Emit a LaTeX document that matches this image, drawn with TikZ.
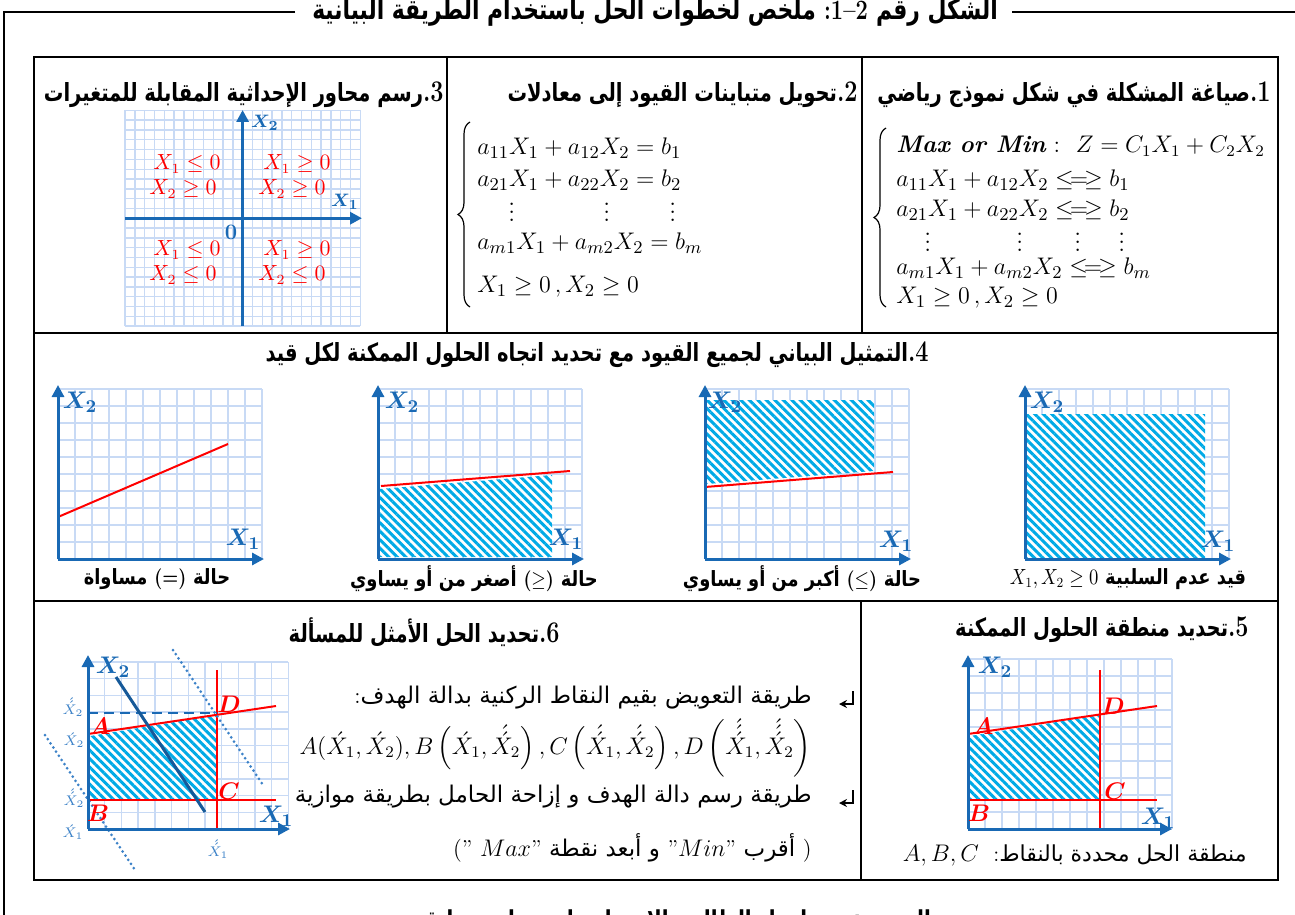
\documentclass[tikz,border=0pt]{standalone}
\usepackage{fontspec}
\usepackage{graphicx}
\usepackage{amsmath,bm}
\usetikzlibrary{arrows.meta,patterns.meta,decorations.pathreplacing}
\newfontfamily\arabicfont[Script=Arabic]{DejaVu Sans}
\TeXXeTstate=1
\newcommand{\AR}[1]{{\arabicfont\beginR #1\endR}}
\newcommand{\HD}[2]{\scalebox{0.78}[1]{#2{\fontsize{15}{17}\selectfont .#1}}}
\newcommand{\NS}[1]{\scalebox{0.85}[1]{#1}}
\definecolor{axblue}{RGB}{25,105,180}
\definecolor{gridblue}{RGB}{200,218,245}
\definecolor{hatchblue}{RGB}{0,170,230}
\definecolor{lblue}{RGB}{60,130,200}
\newcommand{\chartgrid}[5]{%
 \foreach \i in {0,...,#3}{\draw[gridl] ({#1+\i*#5},{#2}) -- ({#1+\i*#5},{#2-#4*#5});}
 \foreach \j in {0,...,#4}{\draw[gridl] ({#1},{#2-\j*#5}) -- ({#1+#3*#5},{#2-\j*#5});}
}
\tikzset{
 framel/.style={draw=black, line width=1pt},
 gridl/.style={draw=gridblue, line width=0.7pt},
 axisl/.style={draw=axblue, line width=1.5pt, -{Triangle[length=6pt,width=6pt]}},
 redl/.style={draw=red, line width=1pt},
 hatched/.style={fill=white, postaction={pattern={Lines[angle=-45,distance=3pt,line width=1.5pt]}, pattern color=hatchblue}},
 axlab/.style={text=axblue, font=\fontsize{12.5}{14}\selectfont, inner sep=0pt},
 ptlab/.style={text=red, font=\fontsize{11.5}{13}\selectfont, inner sep=0pt},
 headt/.style={font=\fontsize{12.5}{14}\selectfont\bfseries, inner sep=0pt, anchor=east},
 capt/.style={font=\fontsize{10.5}{12}\selectfont\bfseries, inner sep=0pt},
 eqt/.style={font=\fontsize{12.5}{14}\selectfont, inner sep=0pt, anchor=west},
 qlab/.style={text=red, font=\fontsize{10.5}{12}\selectfont, inner sep=0pt},
 smalllab/.style={text=lblue, font=\fontsize{7}{8}\selectfont, inner sep=0pt},
 bodyt/.style={font=\fontsize{11.5}{13}\selectfont, inner sep=0pt, anchor=east},
 bracel/.style={draw=black, line width=0.6pt, decorate, decoration={brace, amplitude=6pt}},
 dotl/.style={draw=lblue, line width=1.5pt, line cap=round, dash pattern=on 0pt off 2.5pt},
 bullet/.style={draw=black, line width=0.8pt, -{Stealth[length=4pt,width=4pt]}},
}
\begin{document}
\begin{tikzpicture}[x=0.5pt,y=-0.5pt]
\useasboundingbox (0,0) rectangle (1295,915);
\fill[white] (0,0) rectangle (1295,915);
% outer frame and title
\draw[framel] (295,12) -- (4,12) -- (4,930);
\draw[framel] (1012,12) -- (1300,12);
\node[anchor=base, inner sep=0pt, font=\fontsize{14}{16}\selectfont\bfseries] (title) at (655,20)
 {\scalebox{0.78}[1]{{\arabicfont\beginR ملخص لخطوات الحل باستخدام الطريقة البيانية\endR} :1--2 {\arabicfont\beginR الشكل رقم\endR}}};
% table
\draw[framel] (34,57) rectangle (1278,880);
\draw[framel] (34,333) -- (1278,333);
\draw[framel] (34,601) -- (1278,601);
\draw[framel] (447,57) -- (447,333);
\draw[framel] (862,57) -- (862,333);
\draw[framel] (861,601) -- (861,880);

% ---------- Panel 1
\node[headt] (h1) at (1271,95) {\HD{1}{{\arabicfont\beginR صياغة المشكلة في شكل نموذج رياضي\endR}}};
\draw[bracel] (886,307) -- (886,128);
\node[eqt, font=\fontsize{12}{14}\selectfont] (p1l1) at (896,146) {{\bfseries\itshape Max or Min} :\ \ $Z = C_1X_1 + C_2X_2$};
\node[eqt] (p1l2) at (896,180) {$a_{11}X_1 + a_{12}X_2 \mathrel{\leq\!=\!\geq} b_1$};
\node[eqt] (p1l3) at (896,210) {$a_{21}X_1 + a_{22}X_2 \mathrel{\leq\!=\!\geq} b_2$};
\node[eqt] (p1d1) at (924,236) {$\vdots$};
\node[eqt] (p1d2) at (1016,236) {$\vdots$};
\node[eqt] (p1d3) at (1074,236) {$\vdots$};
\node[eqt] (p1d4) at (1118,236) {$\vdots$};
\node[eqt] (p1l5) at (896,268) {$a_{m1}X_1 + a_{m2}X_2 \mathrel{\leq\!=\!\geq} b_m$};
\node[eqt] (p1l6) at (896,298) {$X_1 \geq 0\,, X_2 \geq 0$};

% ---------- Panel 2
\node[headt] (h2) at (858,95) {\HD{2}{{\arabicfont\beginR تحويل متباينات القيود إلى معادلات\endR}}};
\draw[bracel] (470,307) -- (470,122);
\node[eqt] (p2l1) at (477,148) {$a_{11}X_1 + a_{12}X_2 = b_1$};
\node[eqt] (p2l2) at (477,180) {$a_{21}X_1 + a_{22}X_2 = b_2$};
\node[eqt] (p2d1) at (508,206) {$\vdots$};
\node[eqt] (p2d2) at (603,206) {$\vdots$};
\node[eqt] (p2d3) at (669,206) {$\vdots$};
\node[eqt] (p2l4) at (477,243) {$a_{m1}X_1 + a_{m2}X_2 = b_m$};
\node[eqt] (p2l5) at (477,287) {$X_1 \geq 0\,, X_2 \geq 0$};

% ---------- Panel 3
\node[headt] (h3) at (444,95) {\HD{3}{{\arabicfont\beginR رسم محاور الإحداثية المقابلة للمتغيرات\endR}}};
\chartgrid{125}{326}{24}{22}{9.8}
\coordinate (t3) at (242.6,110);
\coordinate (b3) at (242.6,326);
\coordinate (l3) at (125,218.2);
\coordinate (r3) at (362,218.2);
\draw[axisl] (b3) -- (t3);
\draw[axisl] (l3) -- (r3);
\node[axlab, font=\fontsize{9.5}{11}\selectfont] (x2c) at (265,123) {$\bm{X_2}$};
\node[axlab, font=\fontsize{9.5}{11}\selectfont] (x1c) at (345,202) {$\bm{X_1}$};
\node[axlab, font=\fontsize{11}{12}\selectfont\bfseries] (zero) at (231,232) {0};
\node[qlab] (q1a) at (187,164) {$X_1 \leq 0$};
\node[qlab] (q1b) at (183,189) {$X_2 \geq 0$};
\node[qlab] (q2a) at (297,164) {$X_1 \geq 0$};
\node[qlab] (q2b) at (292,189) {$X_2 \geq 0$};
\node[qlab] (q3a) at (187,250) {$X_1 \leq 0$};
\node[qlab] (q3b) at (183,275) {$X_2 \leq 0$};
\node[qlab] (q4a) at (297,250) {$X_1 \geq 0$};
\node[qlab] (q4b) at (292,275) {$X_2 \leq 0$};

% ---------- Row 2
\node[headt] (h4) at (929,355) {\HD{4}{{\arabicfont\beginR التمثيل البياني لجميع القيود مع تحديد اتجاه الحلول الممكنة لكل قيد\endR}}};
% chart A
\chartgrid{58}{559}{12}{10}{17}
\draw[redl] (58,517) -- (228,444);
\draw[axisl] (58,559) -- (58,385);
\draw[axisl] (58,559) -- (264,559);
\node[axlab] (aX2) at (80,402) {$\bm{X_2}$};
\node[axlab] (aX1) at (243,539) {$\bm{X_1}$};
\node[capt] (capA) at (157,579) {\NS{\AR{مساواة} (=) \AR{حالة}}};
% chart B
\chartgrid{378}{559}{12}{10}{17}
\path[hatched] (380,489) -- (552,475) -- (552,557) -- (380,557) -- cycle;
\draw[redl] (381,486) -- (570,471);
\draw[axisl] (378,559) -- (378,385);
\draw[axisl] (378,559) -- (584,559);
\node[axlab] (bX2) at (402,402) {$\bm{X_2}$};
\node[axlab] (bX1) at (566,539) {$\bm{X_1}$};
\node[capt] (capB) at (474,579) {\NS{{\arabicfont\beginR أصغر من أو يساوي\endR} ($\geq$) \AR{حالة}}};
% chart C
\chartgrid{705}{559}{12}{10}{17}
\path[hatched] (707,400) -- (874,400) -- (874,471) -- (707,484) -- cycle;
\draw[redl] (705,487) -- (893,472);
\draw[axisl] (705,559) -- (705,385);
\draw[axisl] (705,559) -- (911,559);
\node[axlab] (cX2) at (725,402) {$\bm{X_2}$};
\node[axlab] (cX1) at (896,541) {$\bm{X_1}$};
\node[capt] (capC) at (802,579) {\NS{{\arabicfont\beginR أكبر من أو يساوي\endR} ($\leq$) \AR{حالة}}};
% chart D
\chartgrid{1025}{559}{12}{10}{17}
\path[hatched] (1027,414) rectangle (1205,557);
\draw[axisl] (1025,559) -- (1025,385);
\draw[axisl] (1025,559) -- (1231,559);
\node[axlab] (dX2) at (1047,402) {$\bm{X_2}$};
\node[axlab] (dX1) at (1218,541) {$\bm{X_1}$};
\node[capt] (capD) at (1128,579) {\NS{$X_1,X_2 \geq 0$ {\arabicfont\beginR قيد عدم السلبية\endR}}};

% ---------- Panel 5
\node[headt] (h5) at (1249,630) {\HD{5}{{\arabicfont\beginR تحديد منطقة الحلول الممكنة\endR}}};
\chartgrid{968}{829}{12}{10}{17}
\path[hatched] (970,736) -- (1100,715) -- (1100,799) -- (970,799) -- cycle;
\draw[redl] (968,800) -- (1157,800);
\draw[redl] (1100,670) -- (1100,829);
\draw[redl] (968,734) -- (1157,706);
\draw[axisl] (968,829) -- (968,655);
\draw[axisl] (968,829) -- (1172,829);
\node[axlab] (eX2) at (995,667) {$\bm{X_2}$};
\node[axlab] (eX1) at (1158,818) {$\bm{X_1}$};
\node[ptlab] (eA) at (983,726) {$\bm{A}$};
\node[ptlab] (eD) at (1113,706) {$\bm{D}$};
\node[ptlab] (eC) at (1115,791) {$\bm{C}$};
\node[ptlab] (eB) at (979,813) {$\bm{B}$};
\node[bodyt, font=\fontsize{11}{13}\selectfont] (cap5) at (1247,855) {{\fontsize{12.5}{14}\selectfont$A, B, C$}\ \ :{\arabicfont\beginR منطقة الحل محددة بالنقاط\endR}};

% ---------- Panel 6
\node[headt] (h6) at (560,632) {\HD{6}{{\arabicfont\beginR تحديد الحل الأمثل للمسألة\endR}}};
\chartgrid{88}{829}{12}{10}{16.7}
\path[hatched] (90,736) -- (217,715) -- (217,799) -- (90,799) -- cycle;
\draw[redl] (88,800) -- (276,800);
\draw[redl] (217,670) -- (217,829);
\draw[redl] (88,734) -- (276,706);
\draw[draw=axblue, line width=1.2pt, dash pattern=on 5pt off 3pt] (88,713) -- (217,713);
\draw[draw=axblue!85!black, line width=1.5pt] (116,677) -- (205,812);
\draw[dotl] (173,650) -- (263,785);
\draw[dotl] (45,735) -- (135,870);
\draw[axisl] (88,829) -- (88,655);
\draw[axisl] (88,829) -- (290,829);
\node[axlab, font=\fontsize{13}{15}\selectfont] (fX2) at (113,667) {$\bm{X_2}$};
\node[axlab, font=\fontsize{13}{15}\selectfont] (fX1) at (276,816) {$\bm{X_1}$};
\node[ptlab] (fA) at (100,726) {$\bm{A}$};
\node[ptlab] (fD) at (229,704) {$\bm{D}$};
\node[ptlab] (fC) at (229,791) {$\bm{C}$};
\node[ptlab] (fB) at (98,813) {$\bm{B}$};
\node[smalllab] (s1) at (73,707) {$\acute{\acute{X}}_2$};
\node[smalllab] (s2) at (74,740) {$\acute{X}_2$};
\node[smalllab] (s3) at (74,798) {$\acute{\acute{X}}_2$};
\node[smalllab] (s4) at (73,832) {$\acute{X}_1$};
\node[smalllab] (s5) at (218,849) {$\acute{\acute{X}}_1$};
% text of panel 6
\node[bodyt] (t1) at (812,698) {:{\arabicfont\beginR طريقة التعويض بقيم النقاط الركنية بدالة الهدف\endR}};
\node[bodyt] (t2) at (812,748)
 {$A(\acute{X}_1,\acute{X}_2), B\left(\acute{X}_1,\acute{\acute{X}}_2\right), C\left(\acute{\acute{X}}_1,\acute{\acute{X}}_2\right), D\left(\acute{\acute{\acute{X}}}_1,\acute{\acute{\acute{X}}}_2\right)$};
\node[bodyt] (t3) at (812,797) {{\arabicfont\beginR طريقة رسم دالة الهدف و إزاحة الحامل بطريقة موازية\endR}};
\node[bodyt] (t4) at (812,848) {(" $Max$" {\arabicfont\beginR و أبعد نقطة\endR} "$Min$" \AR{أقرب} )};
\coordinate (b1a) at (853,691);
\coordinate (b1b) at (853,704);
\coordinate (b1c) at (839,704);
\draw[bullet] (b1a) -- (b1b) -- (b1c);
\coordinate (b2a) at (853,790);
\coordinate (b2b) at (853,803);
\coordinate (b2c) at (839,803);
\draw[bullet] (b2a) -- (b2b) -- (b2c);

% bottom source text (cut by page edge)
\node[anchor=base, inner sep=0pt, font=\fontsize{13}{15}\selectfont\bfseries] (src) at (672,929)
 {\scalebox{0.76}[1]{{\arabicfont\beginR المصدر: من إعداد الطالبة بالاعتماد على مراجع سابقة\endR}}};
\end{tikzpicture}
\end{document}
